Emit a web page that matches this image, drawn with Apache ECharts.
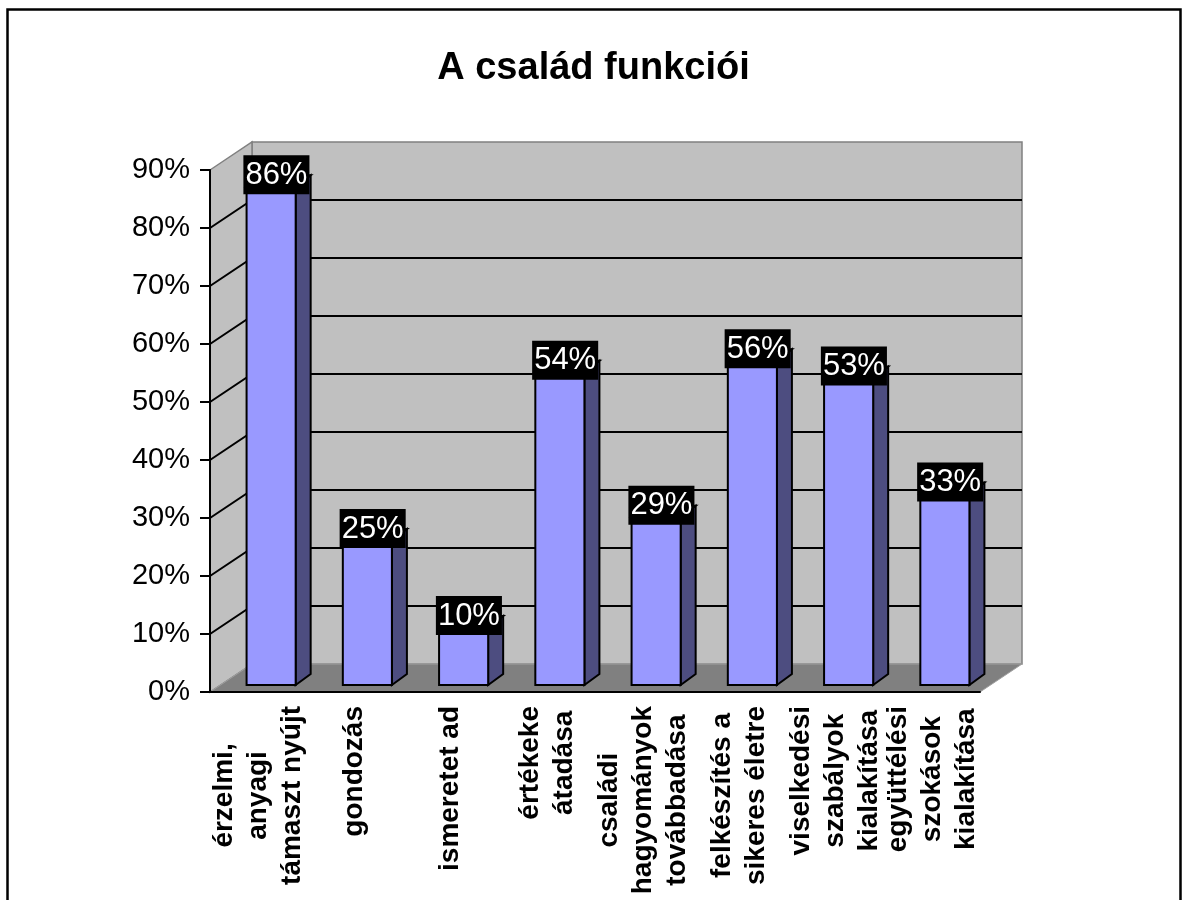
<!DOCTYPE html>
<html>
<head>
<meta charset="utf-8">
<script src="https://cdn.jsdelivr.net/npm/echarts@6/dist/echarts.min.js"></script>
<style>
  html, body { margin: 0; padding: 0; background: #fff; }
  #chart { width: 1187px; height: 900px; }
</style>
</head>
<body>
<div id="chart"></div>
<script>
const categories = [
  "érzelmi,\nanyagi\ntámaszt nyújt",
  "gondozás",
  "ismeretet ad",
  "értékeke\nátadása",
  "családi\nhagyományok\ntovábbadása",
  "felkészítés a\nsikeres életre",
  "viselkedési\nszabályok\nkialakítása",
  "együttélési\nszokások\nkialakítása"
]
const values = [86, 25, 10, 54, 29, 56, 53, 33]
const yTicks = [0, 10, 20, 30, 40, 50, 60, 70, 80, 90]

const font = "Arial, 'Liberation Sans', sans-serif"
// depth of the 3d box (back wall offset) and of the bars
const depthX = 42
const depthY = -28
const barDX = 15
const barDY = -11

const chart = echarts.init(document.getElementById("chart"))

const renderWalls = (params, api) => {
  const cs = params.coordSys
  const x = cs.x, y = cs.y, w = cs.width, h = cs.height
  const children = [
    {
      type: "rect",
      shape: { x: x + depthX, y: y + depthY, width: w, height: h },
      style: { fill: "#c0c0c0", stroke: "#808080", lineWidth: 1.5 }
    },
    {
      type: "polygon",
      shape: { points: [[x, y], [x + depthX, y + depthY], [x + depthX, y + h + depthY], [x, y + h]] },
      style: { fill: "#c0c0c0", stroke: "#808080", lineWidth: 1.5 }
    },
    {
      type: "polygon",
      shape: { points: [[x, y + h], [x + w, y + h], [x + w + depthX, y + h + depthY], [x + depthX, y + h + depthY]] },
      style: { fill: "#808080", stroke: "#a0a0a0", lineWidth: 1 }
    }
  ]
  yTicks.forEach(v => {
    if (v === 0 || v === yTicks[yTicks.length - 1]) return
    const p = api.coord([0, v])
    children.push({
      type: "polyline",
      shape: { points: [[x, p[1]], [x + depthX, p[1] + depthY], [x + w + depthX, p[1] + depthY]] },
      style: { stroke: "#000", lineWidth: 2, fill: null }
    })
  })
  return { type: "group", children }
}

const renderBar = (params, api) => {
  const idx = api.value(0)
  const v = api.value(1)
  const base = api.coord([idx, 0])
  const top = api.coord([idx, v])
  const bw = api.size([1, 0])[0]
  const cx = base[0]
  const x0 = cx - bw * 0.12
  const x1 = cx + bw * 0.39
  const yb = base[1] - 7
  const yt = top[1] - 7
  return {
    type: "group",
    children: [
      {
        type: "polygon",
        shape: { points: [[x1, yb], [x1 + barDX, yb + barDY], [x1 + barDX, yt + barDY], [x1, yt]] },
        style: { fill: "#4d4d80", stroke: "#000", lineWidth: 2 }
      },
      {
        type: "polygon",
        shape: { points: [[x0, yt], [x1, yt], [x1 + barDX, yt + barDY], [x0 + barDX, yt + barDY]] },
        style: { fill: "#9999ff", stroke: "#000", lineWidth: 2 }
      },
      {
        type: "rect",
        shape: { x: x0, y: yt, width: x1 - x0, height: yb - yt },
        style: { fill: "#9999ff", stroke: "#000", lineWidth: 2 }
      },
      {
        type: "text",
        x: cx + bw * 0.19,
        y: top[1] + 1,
        style: {
          text: v + "%",
          font: "31px " + font,
          fill: "#fff",
          backgroundColor: "#000",
          padding: [3, 2, 2, 2],
          lineHeight: 34,
          align: "center",
          verticalAlign: "bottom"
        }
      }
    ]
  }
}

const option = {
  backgroundColor: "#fff",
  animation: false,
  title: {
    text: "A család funkciói",
    left: "center",
    top: 45,
    textStyle: { fontSize: 38, fontWeight: "bold", color: "#000", fontFamily: font }
  },
  graphic: [
    {
      type: "rect",
      shape: { x: 7.5, y: 9.5, width: 1173, height: 900 },
      style: { fill: null, stroke: "#000", lineWidth: 2.5 },
      silent: true
    }
  ],
  grid: { left: 210, right: 207, top: 170, bottom: 208 },
  xAxis: {
    type: "category",
    data: categories,
    z: 10,
    axisLine: { lineStyle: { color: "#000", width: 2 } },
    axisTick: { length: 10, lineStyle: { color: "#000", width: 2 } },
    axisLabel: {
      interval: 0,
      rotate: 90,
      margin: 14,
      formatter: (val) => val.split("\n").map(s => "{c|" + s + "}").join("\n"),
      rich: {
        c: { fontSize: 28, fontWeight: "bold", lineHeight: 34, align: "center", color: "#000", fontFamily: font }
      }
    }
  },
  yAxis: {
    type: "value",
    min: 0,
    max: 90,
    interval: 10,
    z: 10,
    axisLine: { show: true, lineStyle: { color: "#000", width: 2 } },
    axisTick: { show: true, length: 10, lineStyle: { color: "#000", width: 2 } },
    axisLabel: { formatter: "{value}%", fontSize: 29, color: "#000", margin: 20, fontFamily: font },
    splitLine: { show: false }
  },
  series: [
    {
      type: "custom",
      z: 1,
      silent: true,
      renderItem: renderWalls,
      data: [[0, 0]]
    },
    {
      type: "custom",
      z: 3,
      renderItem: renderBar,
      data: values.map((v, i) => [i, v])
    }
  ]
}

chart.setOption(option)
window.addEventListener("resize", () => chart.resize())
</script>
</body>
</html>
